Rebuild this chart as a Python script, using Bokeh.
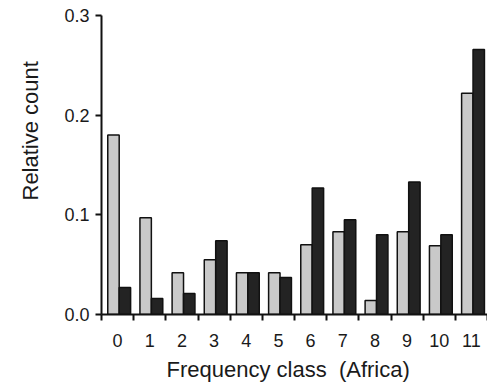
from bokeh.plotting import figure
from bokeh.models import ColumnDataSource, FixedTicker, Range1d, NumeralTickFormatter, Title
from bokeh.transform import dodge
from bokeh.embed import file_html
from bokeh.resources import INLINE

categories = ["0", "1", "2", "3", "4", "5", "6", "7", "8", "9", "10", "11"]
grey_values = [0.180, 0.097, 0.042, 0.055, 0.042, 0.042, 0.070, 0.083, 0.014, 0.083, 0.069, 0.222]
black_values = [0.027, 0.016, 0.021, 0.074, 0.042, 0.037, 0.127, 0.095, 0.080, 0.133, 0.080, 0.266]
y_ticks = [0.0, 0.1, 0.2, 0.3]
x_title = "Frequency class\u00a0 (Africa)"
y_title = "Relative count"

centers = [i + 0.5 for i in range(len(categories))]
source = ColumnDataSource(dict(x=centers, grey=grey_values, black=black_values))

p = figure(width=487, height=388, output_backend="svg", toolbar_location=None,
           x_range=Range1d(0, len(categories)), y_range=Range1d(0, 0.3),
           min_border_left=100, min_border_right=0, min_border_top=15, min_border_bottom=74)

w = 0.355
p.vbar(x=dodge("x", 0.05 - w / 2, range=p.x_range), top="grey", width=w, source=source,
       fill_color="#c9c9c9", line_color="#111111", line_width=1.5)
p.vbar(x=dodge("x", 0.05 + w / 2, range=p.x_range), top="black", width=w, source=source,
       fill_color="#232323", line_color="#111111", line_width=1.5)

p.xgrid.visible = False
p.ygrid.visible = False
p.outline_line_color = None
p.background_fill_color = "white"
p.border_fill_color = "white"

font = "Liberation Sans"
xa = p.xaxis[0]
xa.ticker = FixedTicker(ticks=centers, minor_ticks=list(range(len(categories) + 1)))
xa.major_label_overrides = {c: lab for c, lab in zip(centers, categories)}
xa.major_tick_line_color = None
xa.major_tick_out = 0
xa.major_tick_in = 0
xa.minor_tick_out = 6
xa.minor_tick_in = 0
xa.minor_tick_line_color = "#111111"
xa.minor_tick_line_width = 2
xa.axis_line_width = 2
xa.axis_line_color = "#111111"
xa.major_label_standoff = 13
xa.major_label_text_font = font
xa.major_label_text_font_size = "18px"
xa.major_label_text_color = "#1a1a1a"

ya = p.yaxis[0]
ya.ticker = FixedTicker(ticks=y_ticks, minor_ticks=[])
ya.formatter = NumeralTickFormatter(format="0.0")
ya.major_tick_out = 6
ya.major_tick_in = 0
ya.major_tick_line_width = 2
ya.major_tick_line_color = "#111111"
ya.axis_line_width = 2
ya.axis_line_color = "#111111"
ya.major_label_standoff = 6
ya.major_label_text_font = font
ya.major_label_text_font_size = "18px"
ya.major_label_text_color = "#1a1a1a"

# axis titles placed like the reference (not centred on the frame)
p.add_layout(Title(text=x_title, align="left", offset=65, standoff=10, text_font=font,
                   text_font_size="22px", text_font_style="normal", text_color="#1a1a1a"),
             "below")
p.add_layout(Title(text=y_title, align="left", vertical_align="top", offset=114, standoff=34,
                   text_font=font, text_font_size="22px", text_font_style="normal",
                   text_color="#1a1a1a"),
             "left")

open("out.html", "w").write(file_html(p, INLINE))
